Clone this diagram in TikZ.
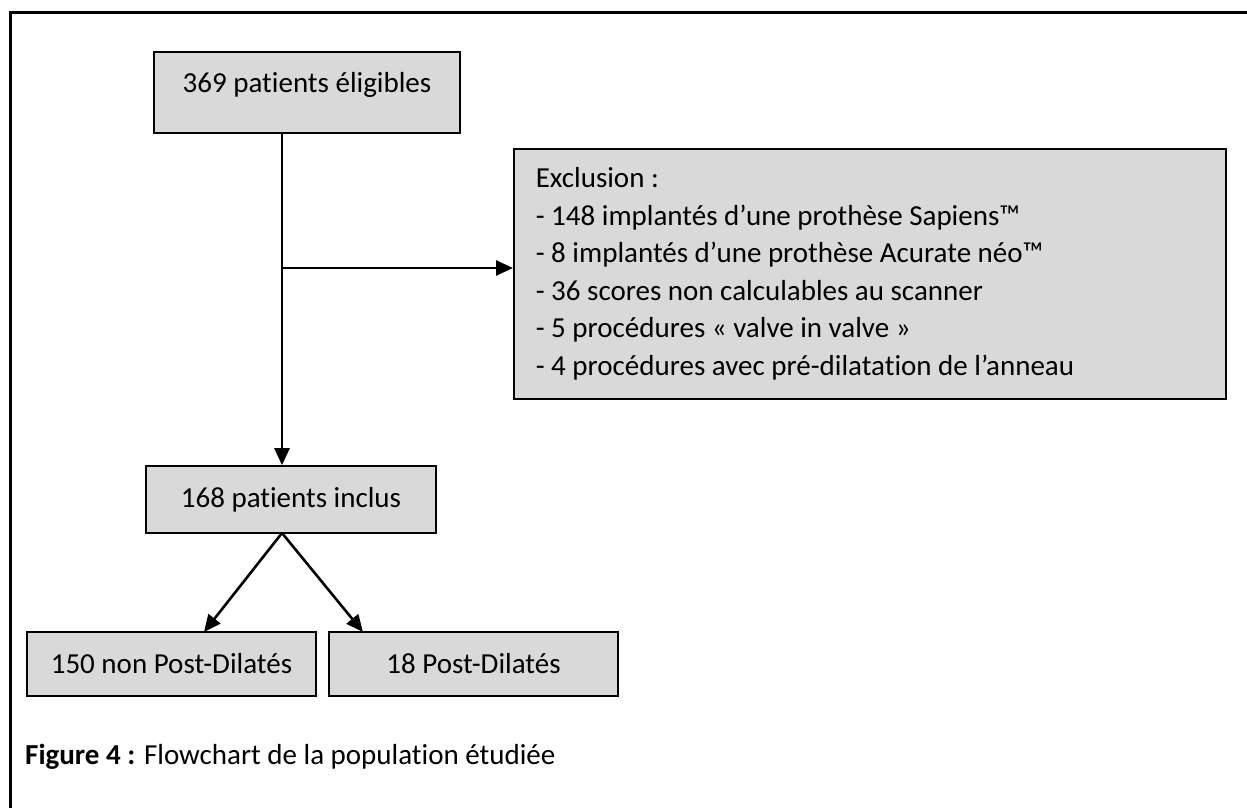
\documentclass[tikz,border=0pt]{standalone}
\usepackage{fontspec}
\setmainfont{Carlito}[Ligatures=NoCommon]
\usetikzlibrary{arrows.meta}
\definecolor{boxgray}{HTML}{D9D9D9}
\tikzset{
  flowbox/.style={draw=black, line width=1.6pt, fill=boxgray, inner sep=0pt,
    font=\fontsize{29}{37.5}\selectfont\frenchspacing},
  conn/.style={draw=black, line width=2.6pt, -{Triangle[length=17pt,width=15pt]}},
  frame/.style={draw=black, line width=3pt}
}
\begin{document}
\begin{tikzpicture}[x=1pt,y=-1pt]
\useasboundingbox (0,0) rectangle (1247,808);
% outer frame (only top and left edges are visible)
\draw[frame] (10,820) -- (10,13) -- (1260,13);

\node[flowbox, minimum width=306pt, minimum height=81pt, text height=20pt, text depth=20pt] (elig) at (307,92.5) {369 patients éligibles};

\node[flowbox, anchor=north west, minimum width=712pt, minimum height=250pt,
      align=left, inner xsep=22pt, text width=668pt] (excl) at (513,148)
  {\spaceskip=0.226em\relax Exclusion :\\
   - 148 implantés d’une prothèse Sapiens™\\
   - 8 implantés d’une prothèse Acurate néo™\\
   - 36 scores non calculables au scanner\\
   - 5 procédures « valve in valve »\\
   - 4 procédures avec pré-dilatation de l’anneau};

\node[flowbox, minimum width=290pt, minimum height=67pt] (incl) at (291,499.5) {168 patients inclus};

\node[flowbox, minimum width=289pt, minimum height=64pt] (nonpd) at (171.5,664) {150 non Post-Dilatés};
\node[flowbox, minimum width=289pt, minimum height=64pt] (pd) at (473.5,664) {18 Post-Dilatés};

\node[anchor=west, inner sep=0pt, font=\fontsize{29}{35}\selectfont] (caption) at (25,757)
  {\textbf{Figure 4 :} Flowchart de la population étudiée};

% connectors
\coordinate (vtop) at (282,133);
\coordinate (branch) at (282,268);
\coordinate (split) at (282,533);
\coordinate (leftend) at (204,632);
\coordinate (rightend) at (363,632);

\draw[conn] (vtop) -- (vtop |- incl.north);
\draw[conn] (branch) -- (branch -| excl.west);
\draw[conn] (split) -- (leftend);
\draw[conn] (split) -- (rightend);
\end{tikzpicture}
\end{document}
